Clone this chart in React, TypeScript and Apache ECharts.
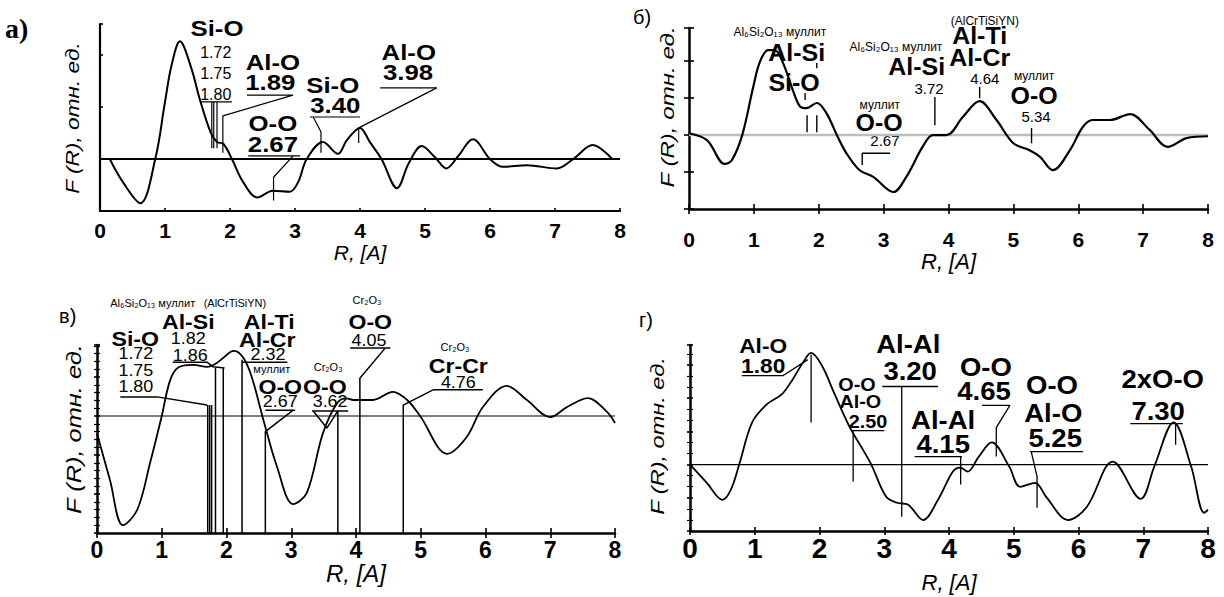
import { useEffect, useRef } from 'react';
import * as echarts from 'echarts';

const FONT = "'Liberation Sans', Arial, Helvetica, sans-serif";
const SERIF = "'Liberation Serif', 'Times New Roman', serif";

// ---------------- Panel а ----------------
const curveA: number[][] = [
  [0.15, 0], [0.35, -0.44], [0.62, -0.85], [0.85, 0], [1.0, 1.1], [1.1, 1.8], [1.23, 2.27],
  [1.4, 1.77], [1.54, 1.13], [1.7, 0.52], [1.8, 0.33], [1.9, 0.29], [2.03, 0], [2.2, -0.44],
  [2.42, -0.74], [2.66, -0.61], [2.92, -0.63], [3.05, -0.44], [3.18, 0], [3.43, 0.33],
  [3.66, 0.1], [3.8, 0.37], [4.0, 0.6], [4.15, 0.33], [4.33, 0], [4.57, -0.56], [4.75, -0.08],
  [4.95, 0.25], [5.15, 0.04], [5.33, -0.18], [5.5, 0.04], [5.74, 0.38], [6.0, 0], [6.2, -0.15],
  [6.57, -0.12], [7.03, -0.18], [7.28, 0], [7.58, 0.27], [7.88, 0],
];
const textsA: [string, number, number, string][] = [
  ['Si-O', 1.8, 2.52, 'B'], ['1.72', 1.78, 2.06, 'N'], ['1.75', 1.78, 1.65, 'N'], ['1.80', 1.78, 1.25, 'N'],
  ['Al-O', 2.66, 1.87, 'B'], ['1.89', 2.62, 1.49, 'B'], ['O-O', 2.66, 0.69, 'B'], ['2.67', 2.66, 0.29, 'B'],
  ['Si-O', 3.58, 1.42, 'B'], ['3.40', 3.62, 1.04, 'B'], ['Al-O', 4.75, 2.06, 'B'], ['3.98', 4.74, 1.67, 'B'],
];
const leadersA: number[][][] = [
  [[1.54, 1.1], [2.03, 1.1]], [[1.72, 1.1], [1.72, 0.21]], [[1.75, 1.1], [1.75, 0.21]], [[1.8, 1.1], [1.8, 0.21]],
  [[2.26, 1.23], [2.97, 1.23], [1.89, 0.83], [1.89, 0.12]],
  [[2.28, 0.06], [3.08, 0.06]], [[2.97, 0.06], [2.67, -0.35], [2.67, -0.8]],
  [[3.23, 0.81], [4.0, 0.81]], [[3.28, 0.81], [3.4, 0.52], [3.4, 0.12]],
  [[4.31, 1.37], [5.18, 1.37]], [[5.18, 1.37], [3.98, 0.6], [3.98, 0.31]],
];

// ---------------- Panel б ----------------
const curveB: number[][] = [
  [0, 0.05], [0.28, -0.14], [0.55, -0.78], [0.66, -0.68], [0.82, 0], [0.99, 1.3], [1.09, 1.97],
  [1.22, 2.3], [1.32, 2.3], [1.45, 1.95], [1.6, 1.22], [1.71, 0.78], [1.81, 0.73], [1.97, 0.87],
  [2.12, 0.59], [2.28, 0], [2.43, -0.5], [2.63, -0.95], [2.84, -1.13], [3.15, -1.54], [3.35, -1.13],
  [3.6, -0.32], [3.76, 0], [3.97, 0], [4.22, 0.49], [4.48, 0.92], [4.74, 0.41], [5.0, -0.22],
  [5.25, -0.41], [5.41, -0.59], [5.61, -0.95], [5.87, -0.41], [6.07, 0.22], [6.22, 0.41],
  [6.49, 0.41], [6.8, 0.57], [7.1, 0.14], [7.38, -0.32], [7.67, -0.08], [8, -0.03],
];
const textsB: [string, number, number, string][] = [
  ['Al₆Si₂O₁₃ муллит', 1.4, 2.78, 'S'], ['Al-Si', 1.66, 2.24, 'B'], ['Si-O', 1.62, 1.43, 'B'],
  ['Al₆Si₂O₁₃ муллит', 3.19, 2.38, 'S'], ['Al-Si', 3.51, 1.86, 'B'], ['3.72', 3.7, 1.27, 'N'],
  ['(AlCrTiSiYN)', 4.56, 3.1, 'S'], ['Al-Ti', 4.48, 2.68, 'B'], ['Al-Cr', 4.48, 2.11, 'B'],
  ['4.64', 4.56, 1.54, 'N'], ['муллит', 5.32, 1.59, 'S'], ['O-O', 5.32, 1.08, 'B'], ['5.34', 5.35, 0.51, 'N'],
  ['муллит', 2.94, 0.81, 'S'], ['O-O', 2.93, 0.35, 'B'], ['2.67', 3.02, -0.14, 'N'],
];
const leadersB: number[][][] = [
  [[1.97, 1.95], [1.97, 1.81]], [[1.79, 1.14], [1.79, 0.95]],
  [[1.82, 0.54], [1.82, 0.08]], [[1.97, 0.54], [1.97, 0.08]],
  [[3.79, 1.03], [3.79, 0.27]], [[4.48, 1.3], [4.48, 1.0]], [[5.28, 0.19], [5.28, -0.22]],
  [[3.1, -0.49], [2.67, -0.49], [2.67, -0.81]],
];

// ---------------- Panel в ----------------
const curveC: number[][] = [
  [0, -0.45], [0.2, -1.64], [0.4, -2.8], [0.62, -2.41], [0.82, -1.2], [1.0, 0], [1.13, 0.92],
  [1.26, 1.25], [1.49, 1.31], [1.7, 1.26], [1.85, 1.36], [2.06, 1.64], [2.12, 1.67], [2.26, 1.49],
  [2.39, 1.0], [2.57, -0.1], [2.78, -1.3], [3.03, -2.26], [3.24, -1.97], [3.49, -0.44], [3.71, 0.33],
  [3.85, 0.45], [3.96, 0.41], [4.26, 0.41], [4.57, 0.62], [4.79, 0.41], [4.99, 0], [5.41, -0.97],
  [5.71, -0.54], [5.96, 0.23], [6.33, 0.77], [6.64, 0.41], [7.0, -0.03], [7.26, 0.23], [7.58, 0.46],
  [7.88, 0.1], [8, -0.18],
];
const textsC: [string, number, number, string][] = [
  ['Al₆Si₂O₁₃ муллит', 0.86, 2.9, 'S'], ['(AlCrTiSiYN)', 2.13, 2.9, 'S'],
  ['Al-Si', 1.41, 2.41, 'B'], ['Al-Ti', 2.66, 2.41, 'B'], ['Si-O', 0.59, 1.97, 'B'], ['1.82', 1.41, 1.97, 'N'],
  ['Al-Cr', 2.63, 1.95, 'B'], ['1.72', 0.6, 1.59, 'N'], ['1.86', 1.44, 1.54, 'N'], ['2.32', 2.64, 1.56, 'N'],
  ['1.75', 0.6, 1.15, 'N'], ['1.80', 0.6, 0.74, 'N'], ['муллит', 2.7, 1.2, 'S'], ['Cr₂O₃', 3.57, 1.26, 'S'],
  ['O-O', 2.83, 0.74, 'B'], ['O-O', 3.52, 0.74, 'B'], ['2.67', 2.83, 0.36, 'N'], ['3.62', 3.6, 0.36, 'N'],
  ['Cr₂O₃', 4.17, 2.97, 'S'], ['O-O', 4.22, 2.41, 'B'], ['4.05', 4.2, 1.92, 'N'],
  ['Cr₂O₃', 5.53, 1.77, 'S'], ['Cr-Cr', 5.58, 1.28, 'B'], ['4.76', 5.58, 0.85, 'N'],
];
const leadersC: number[][][] = [
  [[1.71, 0.28], [1.71, -3]], [[1.74, 0.28], [1.74, -3]], [[1.77, 0.28], [1.77, -3]],
  [[0.36, 0.49], [0.93, 0.49], [1.7, 0.28]],
  [[1.17, 1.38], [1.7, 1.38], [1.79, 1.26], [1.97, 1.23]], [[1.83, 1.23], [1.83, -3]], [[1.95, 1.23], [1.95, -3]],
  [[2.24, 1.44], [2.24, -3]], [[2.24, 1.38], [2.94, 1.38]],
  [[2.6, 0.15], [3.06, 0.15]], [[3.03, 0.15], [2.6, -0.4], [2.6, -3]],
  [[3.32, 0.13], [3.88, 0.13]], [[3.34, 0.13], [3.55, -0.31], [3.72, 0.13]], [[3.72, 0.13], [3.72, -3]],
  [[3.91, 1.74], [4.53, 1.74]], [[4.45, 1.74], [4.06, 0.97], [4.06, -3]],
  [[5.19, 0.67], [5.96, 0.67]], [[5.19, 0.67], [4.73, 0.28], [4.73, -3]],
];

// ---------------- Panel г ----------------
const curveD: number[][] = [
  [0, 0], [0.26, -0.55], [0.5, -1.06], [0.63, -0.76], [0.76, 0], [0.96, 1.27], [1.19, 1.82],
  [1.42, 2.12], [1.59, 2.58], [1.76, 3.12], [1.87, 3.36], [2.04, 2.97], [2.22, 2.18], [2.46, 1.15],
  [2.67, 0.45], [2.8, 0], [3.03, -0.97], [3.2, -1.15], [3.37, -1.21], [3.6, -1.67], [3.83, -1.06],
  [4.06, -0.21], [4.17, -0.09], [4.29, -0.21], [4.46, 0.24], [4.66, 0.67], [4.93, -0.06], [5.1, -0.67],
  [5.33, -0.55], [5.5, -0.97], [5.84, -1.67], [6.13, -1.27], [6.53, 0.09], [6.96, -1.03], [7.17, -0.06],
  [7.47, 1.27], [7.74, -0.06], [7.94, -1.45], [8, -1.36],
];
const textsD: [string, number, number, string][] = [
  ['Al-O', 1.13, 3.58, 'L'], ['1.80', 1.13, 2.98, 'L'], ['O-O', 2.58, 2.4, 'M'], ['Al-O', 2.63, 1.88, 'M'],
  ['2.50', 2.75, 1.3, 'M'], ['Al-Al', 3.37, 3.63, 'B'], ['3.20', 3.4, 2.8, 'B'], ['O-O', 4.57, 2.91, 'B'],
  ['4.65', 4.54, 2.2, 'B'], ['Al-Al', 3.91, 1.33, 'B'], ['4.15', 3.91, 0.62, 'B'], ['O-O', 5.59, 2.38, 'B'],
  ['Al-O', 5.61, 1.53, 'B'], ['5.25', 5.64, 0.8, 'B'], ['2xO-O', 7.3, 2.55, 'B'], ['7.30', 7.23, 1.6, 'B'],
];
const leadersD: number[][][] = [
  [[0.8, 2.68], [1.44, 2.68], [1.82, 3.16]], [[1.87, 3.31], [1.87, 1.27]],
  [[2.5, 1.02], [3.0, 1.02]], [[2.52, 1.02], [2.52, -0.51]],
  [[2.97, 2.35], [3.83, 2.35]], [[3.27, 2.35], [3.27, -1.57]],
  [[4.51, 1.78], [4.94, 1.78], [4.73, 1.11], [4.73, 0.24]],
  [[3.47, 0.24], [4.2, 0.24]], [[4.18, 0.24], [4.18, -0.6]],
  [[5.25, 0.39], [6.07, 0.39]], [[5.27, 0.39], [5.36, -0.36], [5.36, -1.3]],
  [[6.8, 1.23], [7.61, 1.23]], [[7.5, 1.23], [7.5, 0.6]],
];

const Y_TITLE = 'F (R), отн. ед.';
const X_TITLE = 'R, [A]';

// layout / style per panel
const PANELS = [
  {
    letter: 'a)', curve: curveA, texts: textsA, leaders: leadersA,
    grid: { left: 100, top: 24, width: 520, height: 187 }, yMin: -1, yMax: 2.6,
    axisW: 2.2, tickInside: true, cross: false, xTickLen: 3, yTickLen: 3, yMinor: 0,
    xLabelSize: 21, xLabelMargin: 9, xNameSize: 21, xNameGap: 20,
    zeroColor: '#000', zeroW: 2, curveW: 2, leadW: 1.2,
    styles: {
      B: { fontSize: 23, fontWeight: 'bold', sx: 1.12 }, N: { fontSize: 16, fontWeight: 'normal', sx: 1 },
    } as any,
    letterPos: [5, 28], letterFont: { fontFamily: SERIF, fontSize: 28, fontWeight: 'bold' },
    yTitlePos: [72, 118], yTitleSize: 18, yTitleScale: 1.26,
  },
  {
    letter: 'б)', curve: curveB, texts: textsB, leaders: leadersB,
    grid: { left: 689, top: 28, width: 519, height: 181 }, yMin: -2, yMax: 2.9,
    axisW: 2.5, tickInside: false, cross: true, xTickLen: 5, yTickLen: 5, yMinor: 0,
    xLabelSize: 21, xLabelMargin: 20, xNameSize: 22, xNameGap: 39,
    zeroColor: '#bdbdbd', zeroW: 2.5, curveW: 2.2, leadW: 1.4,
    styles: {
      B: { fontSize: 24, fontWeight: 'bold', sx: 1.04 }, N: { fontSize: 15, fontWeight: 'normal', sx: 1 },
      S: { fontSize: 12, fontWeight: 'normal', sx: 1 },
    } as any,
    letterPos: [633, 17], letterFont: { fontFamily: FONT, fontSize: 20, fontWeight: 'normal' },
    yTitlePos: [667, 107], yTitleSize: 19, yTitleScale: 1.27,
  },
  {
    letter: 'в)', curve: curveC, texts: textsC, leaders: leadersC,
    grid: { left: 97, top: 345, width: 518, height: 188 }, yMin: -3, yMax: 1.82,
    axisW: 2.5, tickInside: false, cross: true, xTickLen: 5, yTickLen: 3, yMinor: 5,
    xLabelSize: 23, xLabelMargin: 5, xNameSize: 24, xNameGap: 21,
    zeroColor: '#000', zeroW: 1.2, curveW: 1.8, leadW: 1.5,
    styles: {
      B: { fontSize: 21, fontWeight: 'bold', sx: 1.1 }, N: { fontSize: 16, fontWeight: 'normal', sx: 1.12 },
      S: { fontSize: 11, fontWeight: 'normal', sx: 1 },
    } as any,
    letterPos: [59, 316], letterFont: { fontFamily: FONT, fontSize: 20, fontWeight: 'normal' },
    yTitlePos: [74, 429], yTitleSize: 21, yTitleScale: 1.21,
  },
  {
    letter: 'г)', curve: curveD, texts: textsD, leaders: leadersD,
    grid: { left: 690, top: 345, width: 518, height: 186 }, yMin: -2, yMax: 3.6,
    axisW: 2.5, tickInside: false, cross: true, xTickLen: 4, yTickLen: 3, yMinor: 3,
    xLabelSize: 28, xLabelMargin: 3, xNameSize: 22, xNameGap: 40,
    zeroColor: '#000', zeroW: 1.2, curveW: 1.8, leadW: 1.3,
    styles: {
      B: { fontSize: 25, fontWeight: 'bold', sx: 1.1 }, L: { fontSize: 21, fontWeight: 'bold', sx: 1.08 },
      M: { fontSize: 18, fontWeight: 'bold', sx: 1.1 },
    } as any,
    letterPos: [639, 320], letterFont: { fontFamily: FONT, fontSize: 20, fontWeight: 'normal' },
    yTitlePos: [658, 436], yTitleSize: 19, yTitleScale: 1.24,
  },
];

export default function App() {
  const ref = useRef<HTMLDivElement>(null);
  useEffect(() => {
    const chart = echarts.init(ref.current as HTMLDivElement, null, { renderer: 'svg' });
    const grids: any[] = [];
    const xAxes: any[] = [];
    const yAxes: any[] = [];
    const series: any[] = [];
    const curveIndex: number[] = [];

    PANELS.forEach((p, gi) => {
      grids.push({ ...p.grid, containLabel: false });
      const tickStyle = { color: '#000', width: 1.6 };
      const xi = xAxes.length;
      xAxes.push({
        gridIndex: gi, type: 'value', min: 0, max: 8, interval: 1, position: 'bottom',
        axisLine: { onZero: false, lineStyle: { color: '#000', width: p.axisW } },
        axisTick: { show: true, inside: p.tickInside, length: p.xTickLen, lineStyle: tickStyle },
        axisLabel: { color: '#000', fontFamily: FONT, fontWeight: 'bold', fontSize: p.xLabelSize, margin: p.xLabelMargin },
        splitLine: { show: false },
        name: X_TITLE, nameLocation: 'middle', nameGap: p.xNameGap,
        nameTextStyle: { fontFamily: FONT, fontStyle: 'italic', fontSize: p.xNameSize, color: '#000' },
      });
      if (p.cross) {
        xAxes.push({
          gridIndex: gi, type: 'value', min: 0, max: 8, interval: 1, position: 'bottom',
          axisLine: { show: false, onZero: false },
          axisTick: { show: true, inside: true, length: p.xTickLen, lineStyle: tickStyle },
          axisLabel: { show: false }, splitLine: { show: false },
        });
      }
      const yi = yAxes.length;
      const minor = p.yMinor
        ? { show: true, splitNumber: p.yMinor, length: p.yTickLen, lineStyle: { color: '#000', width: 1.2 } }
        : { show: false };
      yAxes.push({
        gridIndex: gi, type: 'value', min: p.yMin, max: p.yMax, interval: 1, position: 'left',
        axisLine: { onZero: false, lineStyle: { color: '#000', width: p.axisW } },
        axisTick: { show: true, inside: p.tickInside, length: p.yTickLen, lineStyle: tickStyle },
        minorTick: minor,
        axisLabel: { show: false }, splitLine: { show: false }, minorSplitLine: { show: false },
      });
      if (p.cross) {
        yAxes.push({
          gridIndex: gi, type: 'value', min: p.yMin, max: p.yMax, interval: 1, position: 'left',
          axisLine: { show: false, onZero: false },
          axisTick: { show: true, inside: true, length: p.yTickLen, lineStyle: tickStyle },
          minorTick: minor,
          axisLabel: { show: false }, splitLine: { show: false }, minorSplitLine: { show: false },
        });
      }
      series.push({
        type: 'line', xAxisIndex: xi, yAxisIndex: yi, data: [[0, 0], [8, 0]], symbol: 'none', silent: true,
        lineStyle: { color: p.zeroColor, width: p.zeroW }, z: 1,
      });
      curveIndex[gi] = series.length;
      series.push({
        type: 'line', xAxisIndex: xi, yAxisIndex: yi, data: p.curve, symbol: 'none', smooth: 0.35,
        lineStyle: { color: '#000', width: p.curveW }, z: 3,
      });
      p.leaders.forEach((l) => {
        series.push({
          type: 'line', xAxisIndex: xi, yAxisIndex: yi, data: l, symbol: 'none', silent: true,
          lineStyle: { color: '#000', width: p.leadW }, z: 2,
        });
      });
    });

    chart.setOption({
      animation: false,
      backgroundColor: '#fff',
      grid: grids,
      xAxis: xAxes,
      yAxis: yAxes,
      series,
    });

    const graphics: any[] = [];
    PANELS.forEach((p, gi) => {
      p.texts.forEach(([txt, r, v, kind]) => {
        const pt = chart.convertToPixel({ seriesIndex: curveIndex[gi] }, [r, v]) as number[];
        const st = p.styles[kind];
        graphics.push({
          type: 'text', x: pt[0], y: pt[1], scaleX: st.sx, silent: true,
          style: {
            text: txt, fill: '#000', fontFamily: FONT, fontSize: st.fontSize, fontWeight: st.fontWeight,
            align: 'center', verticalAlign: 'middle',
          },
        });
      });
      graphics.push({
        type: 'text', x: p.letterPos[0], y: p.letterPos[1], silent: true,
        style: { text: p.letter, fill: '#000', ...p.letterFont, align: 'left', verticalAlign: 'middle' },
      });
      graphics.push({
        type: 'text', x: p.yTitlePos[0], y: p.yTitlePos[1], rotation: Math.PI / 2, scaleX: p.yTitleScale,
        silent: true,
        style: {
          text: Y_TITLE, fill: '#000', fontFamily: FONT, fontStyle: 'italic', fontSize: p.yTitleSize,
          align: 'center', verticalAlign: 'middle',
        },
      });
    });
    chart.setOption({ graphic: graphics });

    return () => chart.dispose();
  }, []);

  return (
    <div
      ref={ref}
      style={{ position: 'absolute', left: 0, top: 0, width: 1224, height: 597, background: '#fff' }}
    />
  );
}
